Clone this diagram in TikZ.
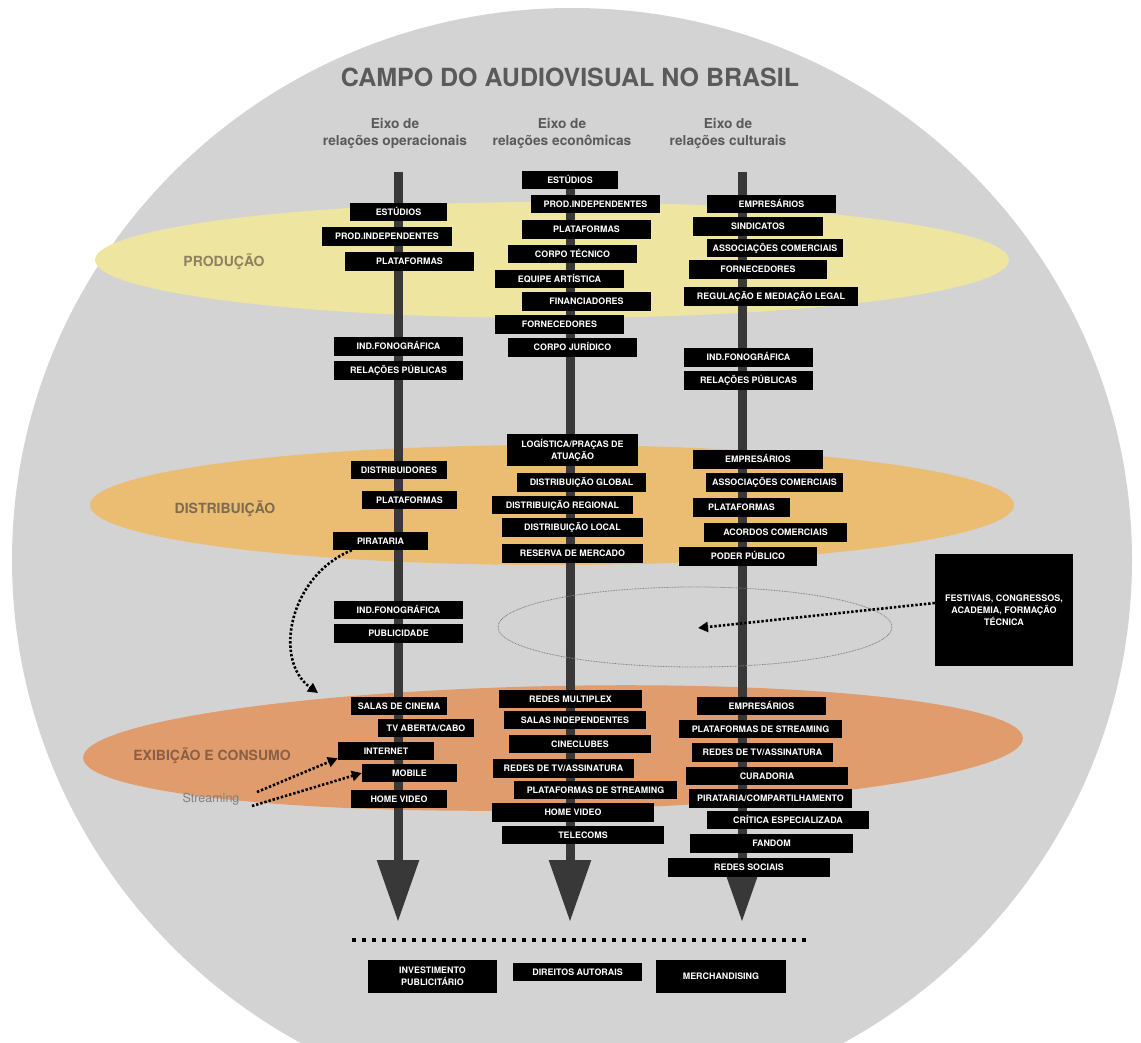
\documentclass[tikz,border=0pt]{standalone}
\usepackage{fontspec}
\setmainfont{TeX Gyre Heros}
\usetikzlibrary{arrows.meta}

\definecolor{fieldgray}{HTML}{D3D3D3}
\definecolor{prodyellow}{HTML}{EEE5A0}
\definecolor{distorange}{HTML}{EABD72}
\definecolor{exiborange}{HTML}{E09C6C}
\definecolor{axisgray}{HTML}{383838}
\definecolor{titlegray}{HTML}{5A5A5A}
\definecolor{prodtext}{HTML}{8E8160}
\definecolor{disttext}{HTML}{7E6A4E}
\definecolor{exibtext}{HTML}{8A5F45}

% black label box given by its corners: name, x1, y1, x2, y2, text
\newcommand\bx[6]{\node[cbx, minimum width={(#4)-(#2)}, minimum height={(#5)-(#3)}]
  (#1) at ({((#2)+(#4))/2},{((#3)+(#5))/2}) {#6};}
% same, for texts set on two or more lines
\newcommand\bxm[6]{\node[cbxm, minimum width={(#4)-(#2)}, minimum height={(#5)-(#3)}]
  (#1) at ({((#2)+(#4))/2},{((#3)+(#5))/2}) {#6};}

\begin{document}
\begin{tikzpicture}[x=1pt, y=-1pt,
  cbx/.style={fill=black, text=white, inner sep=0pt,
    font=\fontsize{8.9}{10.5}\selectfont\bfseries, text height=6.4pt, text depth=0pt},
  cbxm/.style={fill=black, text=white, inner sep=0pt, align=center,
    font=\fontsize{8.9}{12}\selectfont\bfseries},
  axisline/.style={draw=axisgray, line width=9pt, -{Triangle[length=62pt, width=40pt]}},
  dotarrow/.style={line width=2.6pt, dash pattern=on 2.4pt off 1.9pt,
    -{Triangle[length=10pt, width=10pt]}},
  heading/.style={text=titlegray, align=center, font=\fontsize{13.7}{17}\selectfont\bfseries},
  bandlabel/.style={font=\fontsize{14}{16}\selectfont\bfseries},
]
\useasboundingbox (0,0) rectangle (1141,1043);

% the field
\fill[fieldgray] (572,560) ellipse [x radius=560, y radius=552];

% the three stages
\fill[prodyellow] (552,260) ellipse [x radius=457, y radius=58];
\fill[distorange] (552,505) ellipse [x radius=462, y radius=60];
\fill[exiborange, rotate around={1.2:(553,748)}] (553,748) ellipse [x radius=470, y radius=62];

% title and axis headings
\node[text=titlegray, font=\fontsize{25}{28}\selectfont\bfseries] (title) at (570,77)
  {CAMPO DO AUDIOVISUAL NO BRASIL};
\node[heading] (h1) at (395,133) {Eixo de\\relações operacionais};
\node[heading] (h2) at (562,133) {Eixo de\\relações econômicas};
\node[heading] (h3) at (728,133) {Eixo de\\relações culturais};

% the three axes
\coordinate (a1s) at (398,172); \coordinate (a1e) at (398,922);
\coordinate (a2s) at (570,172); \coordinate (a2e) at (570,922);
\coordinate (a3s) at (742,172); \coordinate (a3e) at (742,922);
\draw[axisline] (a1s) -- (a1e);
\draw[axisline] (a2s) -- (a2e);
\draw[axisline] (a3s) -- (a3e);

% stage labels
\node[bandlabel, text=prodtext] (lprod) at (224,262) {PRODUÇÃO};
\node[bandlabel, text=disttext] (ldist) at (225,509) {DISTRIBUIÇÃO};
\node[bandlabel, text=exibtext] (lexib) at (212,756) {EXIBIÇÃO E CONSUMO};

% shared space between distribution and exhibition
\draw[gray, line width=0.8pt, dash pattern=on 0.8pt off 0.8pt] (695,627) ellipse [x radius=197, y radius=40];

% operational axis
\bx{o1}{350}{203}{447}{221}{ESTÚDIOS}
\bx{o2}{322}{227}{452}{246}{PROD.INDEPENDENTES}
\bx{o3}{345}{252}{474}{271}{PLATAFORMAS}
\bx{o4}{334}{337}{463}{356}{IND.FONOGRÁFICA}
\bx{o5}{334}{361}{463}{380}{RELAÇÕES PÚBLICAS}
\bx{o6}{351}{461}{447}{479}{DISTRIBUIDORES}
\bx{o7}{362}{491}{457}{509}{PLATAFORMAS}
\bx{o8}{333}{532}{428}{550}{PIRATARIA}
\bx{o9}{334}{601}{463}{619}{IND.FONOGRÁFICA}
\bx{o10}{334}{624}{463}{643}{PUBLICIDADE}
\bx{o11}{351}{697}{447}{715}{SALAS DE CINEMA}
\bx{o12}{378}{719}{474}{737}{TV ABERTA/CABO}
\bx{o13}{338}{742}{434}{760}{INTERNET}
\bx{o14}{362}{764}{457}{782}{MOBILE}
\bx{o15}{351}{790}{447}{808}{HOME VIDEO}

% economic axis
\bx{e1}{522}{171}{618}{189}{ESTÚDIOS}
\bx{e2}{531}{195}{660}{213}{PROD.INDEPENDENTES}
\bx{e3}{522}{220}{651}{239}{PLATAFORMAS}
\bx{e4}{508}{245}{637}{263}{CORPO TÉCNICO}
\bx{e5}{495}{270}{624}{288}{EQUIPE ARTÍSTICA}
\bx{e6}{522}{292}{651}{311}{FINANCIADORES}
\bx{e7}{495}{315}{624}{334}{FORNECEDORES}
\bx{e8}{508}{338}{637}{357}{CORPO JURÍDICO}
\bxm{e9}{507}{434}{638}{466}{LOGÍSTICA/PRAÇAS DE\\ATUAÇÃO}
\bx{e10}{517}{473}{646}{492}{DISTRIBUIÇÃO GLOBAL}
\bx{e11}{492}{496}{633}{514}{DISTRIBUIÇÃO REGIONAL}
\bx{e12}{502}{518}{643}{537}{DISTRIBUIÇÃO LOCAL}
\bx{e13}{502}{544}{643}{563}{RESERVA DE MERCADO}
\bx{e14}{499}{690}{642}{708}{REDES MULTIPLEX}
\bx{e15}{504}{711}{646}{729}{SALAS INDEPENDENTES}
\bx{e16}{509}{735}{651}{753}{CINECLUBES}
\bx{e17}{493}{759}{634}{778}{REDES DE TV/ASSINATURA}
\bx{e18}{514}{781}{677}{799}{PLATAFORMAS DE STREAMING}
\bx{e19}{492}{803}{654}{822}{HOME VIDEO}
\bx{e20}{502}{826}{664}{844}{TELECOMS}

% cultural axis
\bx{c1}{707}{195}{836}{213}{EMPRESÁRIOS}
\bx{c2}{693}{217}{823}{236}{SINDICATOS}
\bx{c3}{707}{239}{843}{257}{ASSOCIAÇÕES COMERCIAIS}
\bx{c4}{689}{260}{827}{279}{FORNECEDORES}
\bx{c5}{684}{287}{858}{306}{REGULAÇÃO E MEDIAÇÃO LEGAL}
\bx{c6}{684}{348}{813}{367}{IND.FONOGRÁFICA}
\bx{c7}{684}{371}{813}{390}{RELAÇÕES PÚBLICAS}
\bx{c8}{693}{450}{823}{469}{EMPRESÁRIOS}
\bx{c9}{706}{473}{843}{492}{ASSOCIAÇÕES COMERCIAIS}
\bx{c10}{693}{498}{790}{517}{PLATAFORMAS}
\bx{c11}{704}{523}{847}{542}{ACORDOS COMERCIAIS}
\bx{c12}{679}{547}{817}{566}{PODER PÚBLICO}
\bx{c13}{697}{697}{826}{715}{EMPRESÁRIOS}
\bx{c14}{679}{720}{842}{738}{PLATAFORMAS DE STREAMING}
\bx{c15}{692}{743}{833}{762}{REDES DE TV/ASSINATURA}
\bx{c16}{686}{767}{848}{785}{CURADORIA}
\bx{c17}{689}{789}{852}{808}{PIRATARIA/COMPARTILHAMENTO}
\bx{c18}{707}{811}{869}{829}{CRÍTICA ESPECIALIZADA}
\bx{c19}{690}{834}{853}{853}{FANDOM}
\bx{c20}{668}{858}{830}{877}{REDES SOCIAIS}

% festivals and training
\node[cbxm, font=\fontsize{9}{12}\selectfont\bfseries, minimum width=138, minimum height=112]
  (fest) at (1004,610) {FESTIVAIS, CONGRESSOS,\\ACADEMIA, FORMAÇÃO\\TÉCNICA};
\coordinate (festtip) at (698,628);
\draw[dotarrow] ([yshift=7pt]fest.west) -- (festtip);

% piracy feeding exhibition
\coordinate (piratip) at (318,693);
\draw[dotarrow] ([xshift=19pt]o8.south west) .. controls (290,575) and (272,660) .. (piratip);

% streaming
\node[text=gray, font=\fontsize{12.5}{14}\selectfont] (stream) at (211,799) {Streaming};
\coordinate (st1) at (257,792);
\coordinate (st2) at (252,806);
\draw[dotarrow] (st1) -- ([yshift=2pt]o13.south west);
\draw[dotarrow] (st2) -- (o14.west);

% revenue line
\coordinate (dl) at (352,940);
\coordinate (dr) at (806,940);
\draw[line width=4pt, dash pattern=on 4pt off 6pt] (dl) -- (dr);

\bxm{b1}{368}{960}{497}{993}{INVESTIMENTO\\PUBLICITÁRIO}
\bx{b2}{513}{963}{642}{981}{DIREITOS AUTORAIS}
\bx{b3}{656}{960}{786}{993}{MERCHANDISING}
\end{tikzpicture}
\end{document}
